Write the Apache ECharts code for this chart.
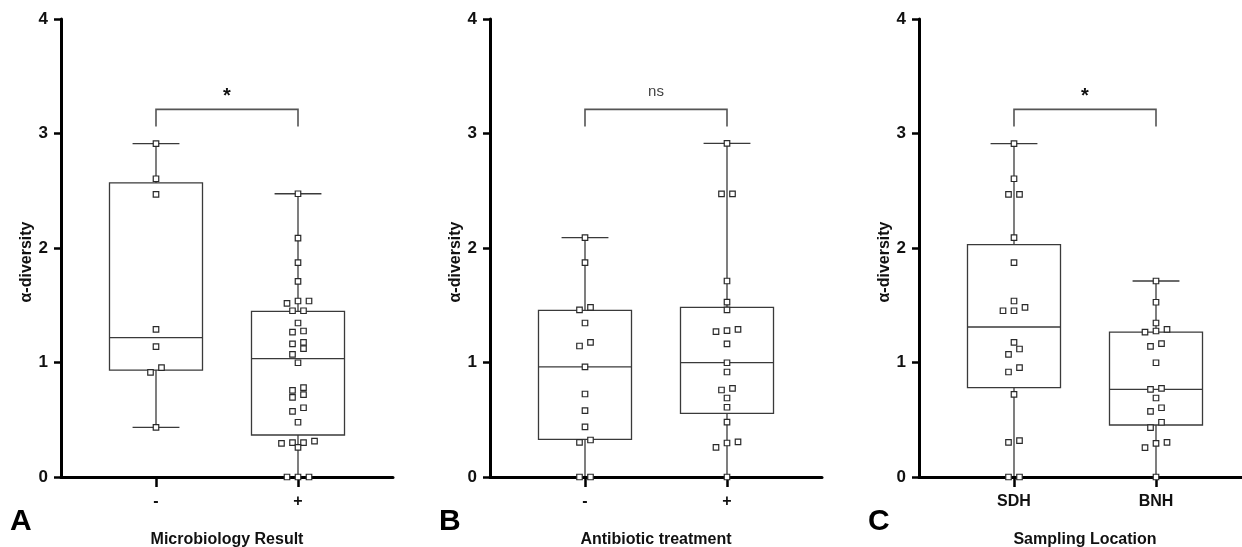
<!DOCTYPE html>
<html>
<head>
<meta charset="utf-8">
<script src="https://cdn.jsdelivr.net/npm/echarts@6/dist/echarts.min.js"></script>
<style>
html, body { margin: 0; padding: 0; background: #fff; }
#main { width: 1242px; height: 547px; }
</style>
</head>
<body>
<div id="main"></div>
<script>
// panel texts
var panelNames = ['Microbiology Result', 'Antibiotic treatment', 'Sampling Location'];
var panelLetters = ['A', 'B', 'C'];
var categoriesA = ['-', '+'];
var categoriesB = ['-', '+'];
var categoriesC = ['SDH', 'BNH'];
var sigLabels = ['*', 'ns', '*'];
var yTicks = [0, 1, 2, 3, 4];
var yName = 'α-diversity';

// alpha-diversity values, one array per group
var microNeg = [2.911, 2.605, 2.469, 1.290, 1.138, 0.955, 0.914, 0.434];
var microPos = [2.474, 2.087, 1.872, 1.709, 1.537, 1.537, 1.517, 1.452, 1.452, 1.345,
  1.275, 1.266, 1.176, 1.162, 1.121, 1.071, 0.998, 0.780, 0.757, 0.719, 0.696, 0.605,
  0.574, 0.478, 0.314, 0.300, 0.300, 0.294, 0.259, 0, 0, 0];
var abxNeg = [2.090, 1.872, 1.482, 1.459, 1.345, 1.176, 1.144, 0.961, 0.725, 0.579,
  0.437, 0.323, 0.303, 0, 0];
var abxPos = [2.914, 2.472, 2.472, 1.712, 1.528, 1.459, 1.290, 1.278, 1.269, 1.162,
  0.998, 0.917, 0.774, 0.760, 0.690, 0.609, 0.480, 0.306, 0.297, 0.259, 0];
var sdh = [2.911, 2.605, 2.469, 2.469, 2.090, 1.872, 1.537, 1.482, 1.452, 1.452,
  1.176, 1.118, 1.071, 0.955, 0.917, 0.722, 0.317, 0.303, 0, 0];
var bnh = [1.712, 1.526, 1.345, 1.290, 1.275, 1.266, 1.164, 1.141, 0.998, 0.774,
  0.766, 0.690, 0.605, 0.574, 0.478, 0.431, 0.303, 0.294, 0.256, 0];

// box stats [min, q1, median, q3, max] as drawn in the figure
var boxMicroNeg = [0.434, 0.934, 1.217, 2.568, 2.911];
var boxMicroPos = [0, 0.367, 1.033, 1.447, 2.474];
var boxAbxNeg = [0, 0.329, 0.961, 1.455, 2.090];
var boxAbxPos = [0, 0.556, 0.999, 1.482, 2.914];
var boxSdh = [0, 0.780, 1.310, 2.029, 2.911];
var boxBnh = [0, 0.454, 0.766, 1.266, 1.712];

// significance bracket height (top, leg end) in y units
var bracketY = [3.211, 3.061];

var panels = [
  { cats: categoriesA, groups: [microNeg, microPos], boxes: [boxMicroNeg, boxMicroPos] },
  { cats: categoriesB, groups: [abxNeg, abxPos], boxes: [boxAbxNeg, boxAbxPos] },
  { cats: categoriesC, groups: [sdh, bnh], boxes: [boxSdh, boxBnh] }
];

var FONT = '"Liberation Sans", Arial, Helvetica, sans-serif';
var lefts = [61, 490, 919];
var xMin = 0.331, xMax = 2.669;
var jitterStep = 0.0775;
var rowTol = 0.052;
var boxWidth = 0.655, capWidth = 0.33;
var lineColor = '#3a3a3a';

// spread points that sit at nearly the same height side by side
function spread(values, pos) {
  var sorted = values.slice().sort(function (a, b) { return b - a; });
  var out = [];
  var i = 0;
  while (i < sorted.length) {
    var row = [sorted[i]];
    var j = i + 1;
    while (j < sorted.length && sorted[i] - sorted[j] <= rowTol) {
      row.push(sorted[j]);
      j++;
    }
    row.sort(function (a, b) { return a - b; });
    row.forEach(function (v, k) {
      out.push([pos + (k - (row.length - 1) / 2) * jitterStep, v]);
    });
    i = j;
  }
  return out;
}

function renderBox(params, api) {
  var x = api.value(0);
  var px = api.coord([x, 0])[0];
  var yMin = api.coord([x, api.value(1)])[1];
  var yQ1 = api.coord([x, api.value(2)])[1];
  var yMed = api.coord([x, api.value(3)])[1];
  var yQ3 = api.coord([x, api.value(4)])[1];
  var yMax = api.coord([x, api.value(5)])[1];
  var hw = api.size([boxWidth, 0])[0] / 2;
  var cw = api.size([capWidth, 0])[0] / 2;
  var st = { stroke: lineColor, lineWidth: 1.3, fill: null };
  return {
    type: 'group',
    children: [
      { type: 'line', shape: { x1: px, y1: yMin, x2: px, y2: yQ1 }, style: st },
      { type: 'line', shape: { x1: px, y1: yQ3, x2: px, y2: yMax }, style: st },
      { type: 'line', shape: { x1: px - cw, y1: yMin, x2: px + cw, y2: yMin }, style: st },
      { type: 'line', shape: { x1: px - cw, y1: yMax, x2: px + cw, y2: yMax }, style: st },
      { type: 'rect', shape: { x: px - hw, y: yQ3, width: hw * 2, height: yQ1 - yQ3 }, style: st },
      { type: 'line', shape: { x1: px - hw, y1: yMed, x2: px + hw, y2: yMed }, style: st }
    ]
  };
}

function makeBracket(label) {
  return function (params, api) {
    var p1 = api.coord([api.value(0), api.value(2)]);
    var p2 = api.coord([api.value(1), api.value(2)]);
    var legY = api.coord([api.value(0), api.value(3)])[1];
    var isNs = label === 'ns';
    return {
      type: 'group',
      children: [
        {
          type: 'polyline',
          shape: { points: [[p1[0], legY], [p1[0], p1[1]], [p2[0], p2[1]], [p2[0], legY]] },
          style: { stroke: '#555', lineWidth: 1.6, fill: null }
        },
        {
          type: 'text',
          x: (p1[0] + p2[0]) / 2,
          y: p1[1] - (isNs ? 17 : 13),
          style: {
            text: label,
            textAlign: 'center',
            textVerticalAlign: 'middle',
            fill: isNs ? '#444' : '#111',
            font: (isNs ? 'normal 15px ' : 'bold 20px ') + FONT
          }
        }
      ]
    };
  };
}

var grid = [], xAxis = [], yAxis = [], series = [], graphic = [];

panels.forEach(function (p, i) {
  grid.push({ left: lefts[i], top: 19, width: 332, height: 458, outerBoundsMode: 'none', containLabel: false });
  xAxis.push({
    gridIndex: i,
    type: 'value',
    min: xMin,
    max: xMax,
    z: 3,
    splitLine: { show: false },
    axisLine: { lineStyle: { color: '#000', width: 3 } },
    axisTick: { customValues: [1, 2], length: 10, lineStyle: { color: '#000', width: 2.5 } },
    axisLabel: {
      customValues: [1, 2],
      formatter: function (v) { return p.cats[Math.round(v) - 1]; },
      color: '#111',
      fontWeight: 'bold',
      fontSize: 16,
      fontFamily: FONT,
      margin: 17
    },
    name: panelNames[i],
    nameLocation: 'middle',
    nameGap: 55,
    nameTextStyle: { color: '#111', fontWeight: 'bold', fontSize: 16, fontFamily: FONT }
  });
  yAxis.push({
    gridIndex: i,
    type: 'value',
    min: yTicks[0],
    max: yTicks[yTicks.length - 1],
    interval: 1,
    z: 3,
    splitLine: { show: false },
    axisLine: { lineStyle: { color: '#000', width: 3 } },
    axisTick: { length: 7, lineStyle: { color: '#000', width: 2.5 } },
    axisLabel: { color: '#111', fontWeight: 'bold', fontSize: 17, fontFamily: FONT, margin: 13 }
  });

  series.push({
    type: 'custom',
    xAxisIndex: i,
    yAxisIndex: i,
    z: 1,
    silent: true,
    renderItem: renderBox,
    data: p.boxes.map(function (b, k) { return [k + 1].concat(b); })
  });
  series.push({
    type: 'custom',
    xAxisIndex: i,
    yAxisIndex: i,
    z: 1,
    silent: true,
    renderItem: makeBracket(sigLabels[i]),
    data: [[1, 2, bracketY[0], bracketY[1]]]
  });
  p.groups.forEach(function (g, k) {
    series.push({
      type: 'scatter',
      xAxisIndex: i,
      yAxisIndex: i,
      z: 5,
      symbol: 'rect',
      symbolSize: 5.5,
      itemStyle: { color: '#fff', borderColor: '#2a2a2a', borderWidth: 1.2, opacity: 1 },
      data: spread(g, k + 1)
    });
  });

  graphic.push({
    type: 'text',
    x: lefts[i] - 34,
    y: 262,
    rotation: Math.PI / 2,
    style: {
      text: yName,
      textAlign: 'center',
      textVerticalAlign: 'middle',
      fill: '#111',
      font: 'bold 16px ' + FONT
    }
  });
  graphic.push({
    type: 'text',
    x: lefts[i] - 51,
    y: 522,
    style: {
      text: panelLetters[i],
      textAlign: 'left',
      textVerticalAlign: 'middle',
      fill: '#000',
      font: 'bold 30px ' + FONT
    }
  });
});

var chart = echarts.init(document.getElementById('main'), null, { renderer: 'canvas' });
chart.setOption({
  animation: false,
  backgroundColor: '#fff',
  grid: grid,
  xAxis: xAxis,
  yAxis: yAxis,
  series: series,
  graphic: graphic
});
</script>
</body>
</html>
